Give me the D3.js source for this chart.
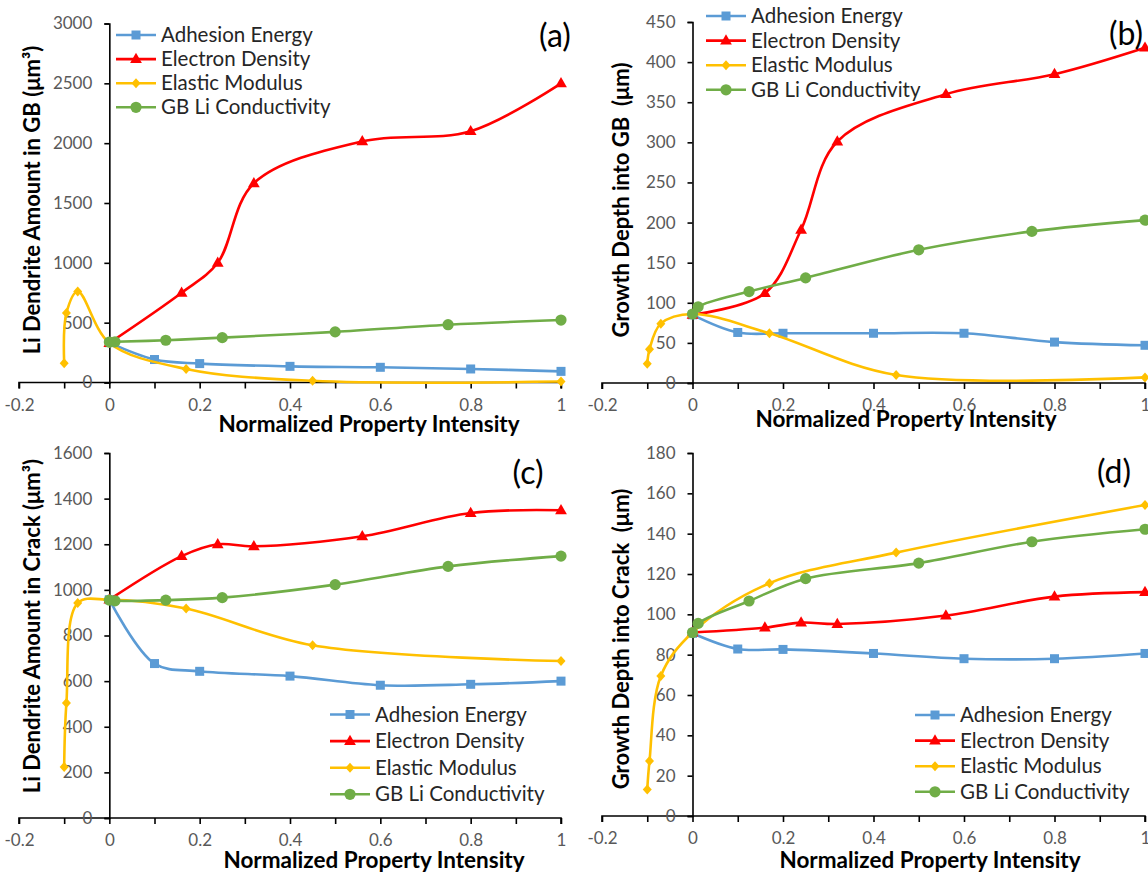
<!DOCTYPE html>
<html>
<head>
<meta charset="utf-8">
<script src="https://cdn.jsdelivr.net/npm/d3@7"></script>
<style>
  html, body { margin: 0; padding: 0; background: #fff; }
  svg { display: block; font-family: Lato, "Open Sans", sans-serif; }
</style>
</head>
<body>
<svg id="chart" width="1148" height="872"></svg>
<script>
// Series names and colours
const seriesNames = ["Adhesion Energy", "Electron Density", "Elastic Modulus", "GB Li Conductivity"];
const seriesColors = ["#5B9BD5", "#FF0000", "#FFC000", "#70AD47"];
const seriesMarkers = ["square", "triangle", "diamond", "circle"];

// Normalized property intensity sampled for each series
const xAdhesion = [0, 0.1, 0.2, 0.4, 0.6, 0.8, 1];
const xElectron = [0, 0.16, 0.24, 0.32, 0.56, 0.8, 1];
const xElastic = [-0.1, -0.095, -0.07, 0, 0.17, 0.45, 1];
const xConductivity = [0, 0.0125, 0.125, 0.25, 0.5, 0.75, 1];

// (a) Li dendrite amount in GB (µm³)
const aAdhesion = [333, 192, 158, 135, 127, 113, 93];
const aElectron = [330, 750, 1000, 1665, 2015, 2100, 2500];
const aElastic = [160, 580, 760, 330, 113, 14, 8];
const aConductivity = [338, 340, 353, 375, 423, 483, 522];

// (b) Growth depth into GB (µm)
const bAdhesion = [85, 63, 62, 62, 62, 51, 47];
const bElectron = [85, 112, 191, 301, 360, 385, 418];
const bElastic = [24, 42, 74, 86, 62, 10, 7];
const bConductivity = [86, 95, 114, 131, 166, 189, 203];

// (c) Li dendrite amount in crack (µm³)
const cAdhesion = [957, 677, 643, 622, 582, 586, 600];
const cElectron = [957, 1148, 1200, 1191, 1235, 1337, 1349];
const cElastic = [224, 504, 942, 957, 918, 757, 688];
const cConductivity = [955, 952, 955, 966, 1023, 1103, 1148];

// (d) Growth depth into crack (µm)
const dAdhesion = [90.6, 82.8, 82.6, 80.6, 78, 78, 80.6];
const dElectron = [91, 93.4, 95.9, 95.2, 99.4, 108.8, 111];
const dElastic = [13.2, 27.3, 69.4, 91, 115.4, 130.6, 154.2];
const dConductivity = [91, 95.5, 106.6, 117.7, 125.4, 136, 142.2];

// Axis ticks
const xTickValues = [-0.2, -0.1, 0, 0.1, 0.2, 0.3, 0.4, 0.5, 0.6, 0.7, 0.8, 0.9, 1];
const xTickLabels = ["-0.2", "", "0", "", "0.2", "", "0.4", "", "0.6", "", "0.8", "", "1"];
const aYTicks = [0, 500, 1000, 1500, 2000, 2500, 3000];
const bYTicks = [0, 50, 100, 150, 200, 250, 300, 350, 400, 450];
const cYTicks = [0, 200, 400, 600, 800, 1000, 1200, 1400, 1600];
const dYTicks = [0, 20, 40, 60, 80, 100, 120, 140, 160, 180];

const xSets = [xAdhesion, xElectron, xElastic, xConductivity];

const panels = [
  { tag: "(a)", yLabel: "Li Dendrite Amount in GB (μm³)", yTicks: aYTicks,
    series: [aAdhesion, aElectron, aElastic, aConductivity],
    box: { x0: 19, x1: 561, y0: 382.5, y1: 23.5 },
    legend: { x: 116, y: 35, dy: 24.1 }, tagPos: [555, 36],
    xTitlePos: [369, 424], yTitlePos: [32, 200] },
  { tag: "(b)", yLabel: "Growth Depth into GB  (μm)", yTicks: bYTicks,
    series: [bAdhesion, bElectron, bElastic, bConductivity],
    box: { x0: 602, x1: 1145, y0: 383, y1: 22 },
    legend: { x: 706, y: 16, dy: 24.6 }, tagPos: [1126, 34],
    xTitlePos: [906, 419], yTitlePos: [621, 200] },
  { tag: "(c)", yLabel: "Li Dendrite Amount in Crack (μm³)", yTicks: cYTicks,
    series: [cAdhesion, cElectron, cElastic, cConductivity],
    box: { x0: 19, x1: 561, y0: 818, y1: 453 },
    legend: { x: 330, y: 714.5, dy: 26.6 }, tagPos: [528, 473],
    xTitlePos: [374, 860], yTitlePos: [32, 626] },
  { tag: "(d)", yLabel: "Growth Depth into Crack  (μm)", yTicks: dYTicks,
    series: [dAdhesion, dElectron, dElastic, dConductivity],
    box: { x0: 602, x1: 1145, y0: 816, y1: 453 },
    legend: { x: 915, y: 715, dy: 25.6 }, tagPos: [1114, 472],
    xTitlePos: [930, 860], yTitlePos: [621, 639] }
];

const svg = d3.select("#chart");

function drawMarker(g, type, color, cx, cy) {
  if (type === "square") {
    g.append("rect").attr("x", cx - 4.5).attr("y", cy - 4.5)
      .attr("width", 9).attr("height", 9).attr("fill", color);
  } else if (type === "triangle") {
    g.append("path").attr("d", d3.symbol(d3.symbolTriangle, 60)()).attr("transform", `translate(${cx},${cy + 0.5})`)
      .attr("fill", color);
  } else if (type === "diamond") {
    g.append("path").attr("d", `M${cx},${cy - 5}L${cx + 4.5},${cy}L${cx},${cy + 5}L${cx - 4.5},${cy}Z`)
      .attr("fill", color);
  } else {
    g.append("circle").attr("cx", cx).attr("cy", cy).attr("r", 5.6).attr("fill", color);
  }
}

panels.forEach(p => {
  const x = d3.scaleLinear().domain([-0.2, 1]).range([p.box.x0, p.box.x1]);
  const y = d3.scaleLinear().domain([0, d3.max(p.yTicks)]).range([p.box.y0, p.box.y1]);
  const g = svg.append("g");

  // x axis along y = 0
  const xAxis = d3.axisBottom(x).tickValues(xTickValues)
    .tickFormat((d, i) => xTickLabels[i]).tickSizeOuter(0).tickSize(6).tickPadding(10);
  const gx = g.append("g").attr("transform", `translate(0,${y(0)})`).call(xAxis);
  gx.select(".domain").attr("stroke", "#000").attr("stroke-width", 1.6)
    .attr("d", `M${x(-0.2)},6V0H${x(1)}V6`);
  gx.selectAll(".tick line").attr("stroke", "#000").attr("stroke-width", 1.6);
  gx.selectAll(".tick text").attr("fill", "#595959").style("font-size", "17px")
    .style("font-family", "Lato, sans-serif");

  // y axis along x = 0
  const yAxis = d3.axisLeft(y).tickValues(p.yTicks).tickFormat(d3.format("d"))
    .tickSizeOuter(0).tickSize(5).tickPadding(12);
  const gy = g.append("g").attr("transform", `translate(${x(0)},0)`).call(yAxis);
  gy.select(".domain").attr("stroke", "#000").attr("stroke-width", 1.6);
  gy.selectAll(".tick line").attr("stroke", "#000").attr("stroke-width", 1.6);
  gy.selectAll(".tick text").attr("fill", "#595959").style("font-size", "17px")
    .style("font-family", "Lato, sans-serif");

  // smoothed series lines
  const line = d3.line().curve(d3.curveCatmullRom.alpha(0.5));
  p.series.forEach((vals, si) => {
    const pts = vals.map((v, i) => [x(xSets[si][i]), y(v)]);
    g.append("path").attr("d", line(pts)).attr("fill", "none")
      .attr("stroke", seriesColors[si]).attr("stroke-width", 2.6)
      .attr("stroke-linejoin", "round").attr("stroke-linecap", "round");
    const mg = g.append("g");
    pts.forEach(pt => drawMarker(mg, seriesMarkers[si], seriesColors[si], pt[0], pt[1]));
  });

  // legend
  const lg = g.append("g");
  seriesNames.forEach((name, i) => {
    const ly = p.legend.y + i * p.legend.dy;
    lg.append("line").attr("x1", p.legend.x).attr("x2", p.legend.x + 40)
      .attr("y1", ly).attr("y2", ly).attr("stroke", seriesColors[i]).attr("stroke-width", 2.6);
    drawMarker(lg, seriesMarkers[i], seriesColors[i], p.legend.x + 20, ly);
    lg.append("text").attr("x", p.legend.x + 45).attr("y", ly).attr("dy", "0.35em")
      .attr("fill", "#262626").style("font-size", "20.5px").text(name);
  });

  // axis titles
  g.append("text").attr("x", p.xTitlePos[0]).attr("y", p.xTitlePos[1]).attr("dy", "0.35em")
    .attr("text-anchor", "middle").style("font-weight", "bold").style("font-size", "22.5px")
    .attr("fill", "#000").text("Normalized Property Intensity");
  g.append("text").attr("transform", `translate(${p.yTitlePos[0]},${p.yTitlePos[1]}) rotate(-90)`)
    .attr("dy", "0.35em").attr("text-anchor", "middle").style("font-weight", "bold")
    .style("font-size", "22px").style("white-space", "pre").attr("fill", "#000").text(p.yLabel);

  // panel tag
  g.append("text").attr("x", p.tagPos[0]).attr("y", p.tagPos[1]).attr("dy", "0.35em")
    .attr("text-anchor", "middle").style("font-size", "32px").attr("fill", "#000").text(p.tag);
});
</script>
</body>
</html>
